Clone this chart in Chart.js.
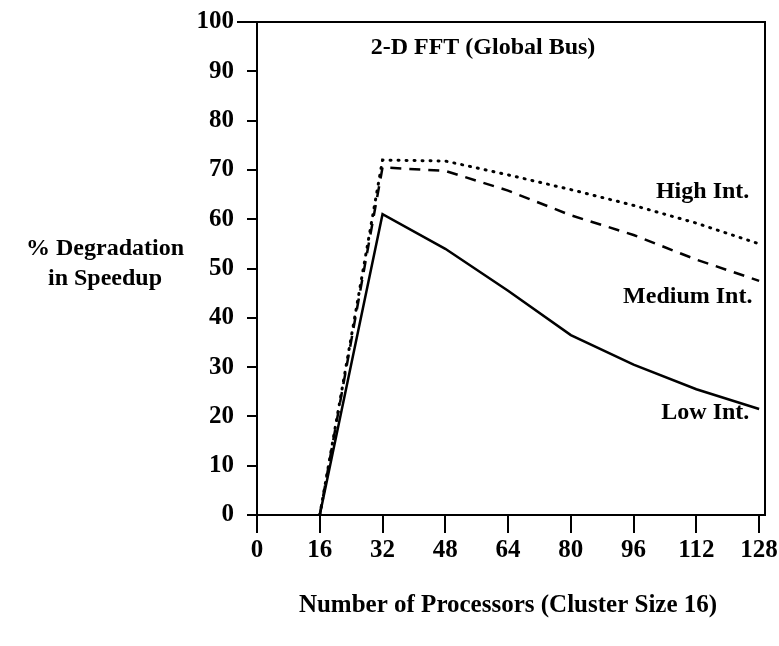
<!DOCTYPE html>
<html>
<head>
<meta charset="utf-8">
<script src="https://cdn.jsdelivr.net/npm/chart.js@4/dist/chart.umd.min.js"></script>
<style>
html,body{margin:0;padding:0;background:#fff;}
#wrap{width:779px;height:646px;}
</style>
</head>
<body>
<div id="wrap"><canvas id="c" width="779" height="646"></canvas></div>
<script>
// processors (x) and % degradation per interconnect load
const processors = [16, 32, 48, 64, 80, 96, 112, 128];
const lowInt    = [0, 61, 54, 45.5, 36.5, 30.5, 25.5, 21.5];
const mediumInt = [0, 70.5, 69.8, 65.8, 60.8, 56.8, 51.8, 47.5];
const highInt   = [0, 72, 71.8, 69, 66, 62.8, 59.2, 55];
const xTicks = [0, 16, 32, 48, 64, 80, 96, 112, 128];
const yTicks = [0, 10, 20, 30, 40, 50, 60, 70, 80, 90, 100];

const FONT = '"Liberation Serif", "DejaVu Serif", serif';

function pts(ys){ return processors.map((x,i)=>({x:x, y:ys[i]})); }

const textPlugin = {
  id:'texts',
  afterDraw(chart){
    const ctx = chart.ctx, a = chart.chartArea;
    const xs = chart.scales.x, ys = chart.scales.y;
    ctx.save();
    ctx.strokeStyle = '#000';
    ctx.lineWidth = 2;
    ctx.strokeRect(a.left, a.top, a.right - a.left, a.bottom - a.top);
    // top border runs out a bit past the axis at 100
    ctx.beginPath();
    ctx.moveTo(a.left - 20, a.top);
    ctx.lineTo(a.left, a.top);
    ctx.stroke();
    ctx.fillStyle = '#000';
    ctx.font = 'bold 24px ' + FONT;
    ctx.textBaseline = 'middle';
    ctx.textAlign = 'center';
    ctx.fillText('2-D FFT (Global Bus)', 483, 48);
    ctx.fillText('% Degradation', 105, 249);
    ctx.fillText('in Speedup', 105, 279);
    ctx.font = 'bold 25px ' + FONT;
    ctx.fillText('Number of Processors (Cluster Size 16)', 508, 606);
    ctx.font = 'bold 24px ' + FONT;
    ctx.textAlign = 'right';
    ctx.fillText('High Int.', xs.getPixelForValue(125.5), ys.getPixelForValue(65.5));
    ctx.fillText('Medium Int.', xs.getPixelForValue(126.3), ys.getPixelForValue(44.3));
    ctx.fillText('Low Int.', xs.getPixelForValue(125.5), ys.getPixelForValue(20.7));
    ctx.restore();
  }
};

new Chart(document.getElementById('c'), {
  type:'line',
  data:{
    datasets:[
      {label:'Low Int.', data:pts(lowInt), borderColor:'#000', borderWidth:2.5, pointRadius:0, tension:0},
      {label:'Medium Int.', data:pts(mediumInt), borderColor:'#000', borderWidth:2.5, borderDash:[11,8], pointRadius:0, tension:0},
      {label:'High Int.', data:pts(highInt), borderColor:'#000', borderWidth:3, borderDash:[1,7], borderCapStyle:'round', pointRadius:0, tension:0}
    ]
  },
  options:{
    responsive:false,
    animation:false,
    layout:{padding:{top:22, right:14, left:0, bottom:0}},
    plugins:{legend:{display:false}, tooltip:{enabled:false}},
    scales:{
      x:{
        type:'linear', min:0, max:129.5,
        afterBuildTicks(s){ s.ticks = xTicks.map(v=>({value:v})); },
        afterFit(s){ s.height = 646 - 515; s.paddingLeft = 0; s.paddingRight = 0; },
        grid:{drawOnChartArea:false, drawTicks:true, tickLength:18, color:'#000', lineWidth:2},
        border:{display:true, color:'#000', width:2},
        ticks:{color:'#000', font:{family:FONT, size:25, weight:'bold'}, padding:3, maxRotation:0}
      },
      y:{
        type:'linear', min:0, max:100,
        afterBuildTicks(s){ s.ticks = yTicks.map(v=>({value:v})); },
        afterFit(s){ s.width = 257; s.paddingTop = 0; s.paddingBottom = 0; },
        grid:{drawOnChartArea:false, drawTicks:true, tickLength:10, color:'#000', lineWidth:2},
        border:{display:true, color:'#000', width:2},
        ticks:{color:'#000', font:{family:FONT, size:25, weight:'bold'}, padding:13}
      }
    }
  },
  plugins:[textPlugin]
});
</script>
</body>
</html>
